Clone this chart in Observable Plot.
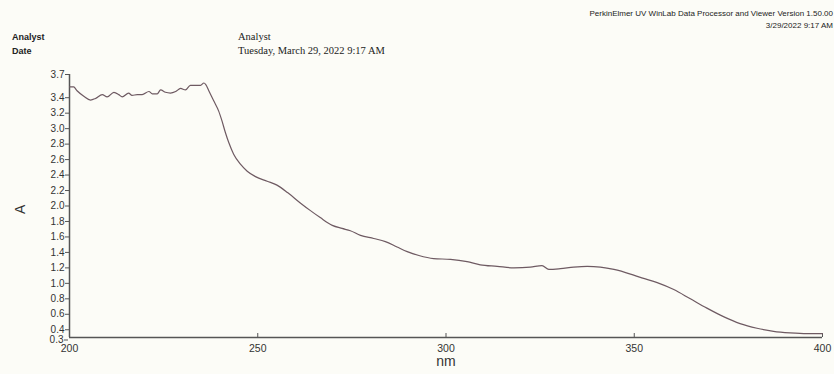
<!DOCTYPE html>
<html>
<head>
<meta charset="utf-8">
<script src="https://cdn.jsdelivr.net/npm/d3@7"></script>
<script src="https://cdn.jsdelivr.net/npm/@observablehq/plot@0.6"></script>
<style>
  html, body { margin: 0; padding: 0; background: #fcfcf7; }
  #wrap { position: relative; width: 834px; height: 374px; overflow: hidden; background: #fcfcf7; }
  .hdr { position: absolute; white-space: nowrap; color: #222; }
  .b { font-family: "Liberation Sans", Arial, sans-serif; font-weight: bold; font-size: 9px; }
  .s { font-family: "Liberation Serif", "Times New Roman", serif; font-size: 10.5px; }
  .r { font-family: "Liberation Sans", Arial, sans-serif; font-size: 8px; text-align: right; right: 1px; }
  #chart { position: absolute; left: 0; top: 0; }
</style>
</head>
<body>
<div id="wrap">
  <div class="hdr r" style="top:9px;">PerkinElmer UV WinLab Data Processor and Viewer Version 1.50.00</div>
  <div class="hdr r" style="top:21px;">3/29/2022 9:17 AM</div>
  <div class="hdr b" style="left:12px; top:32px;">Analyst</div>
  <div class="hdr b" style="left:12px; top:46px;">Date</div>
  <div class="hdr s" style="left:238px; top:31px;">Analyst</div>
  <div class="hdr s" style="left:238px; top:45px;">Tuesday, March 29, 2022 9:17 AM</div>
  <div id="chart"></div>
</div>
<script>
const wavelength = [200.0, 201.1, 202.0, 203.8, 205.6, 206.9, 208.7, 210.0, 211.8, 213.1, 214.0, 215.7, 216.6, 218.0, 219.3, 221.1, 222.0, 223.3, 224.2, 225.5, 226.8, 228.2, 229.5, 230.8, 232.1, 233.5, 234.8, 235.7, 236.2, 237.0, 238.3, 239.6, 240.5, 241.4, 242.3, 243.6, 245.4, 247.2, 249.4, 252.5, 255.1, 258.0, 261.3, 264.0, 266.6, 269.8, 272.4, 274.6, 277.3, 280.8, 283.9, 287.0, 289.7, 292.8, 296.7, 301.2, 305.6, 309.1, 313.6, 318.0, 322.4, 325.5, 327.3, 330.4, 333.9, 337.5, 341.0, 344.6, 349.0, 352.0, 356.1, 360.5, 364.9, 369.3, 373.7, 378.1, 382.6, 387.0, 391.4, 395.9, 400.0];
const absorbance = [3.54, 3.54, 3.49, 3.42, 3.37, 3.39, 3.44, 3.41, 3.47, 3.44, 3.41, 3.46, 3.43, 3.44, 3.44, 3.48, 3.45, 3.45, 3.50, 3.47, 3.46, 3.48, 3.52, 3.50, 3.56, 3.56, 3.56, 3.59, 3.57, 3.49, 3.36, 3.23, 3.10, 2.95, 2.82, 2.67, 2.54, 2.45, 2.38, 2.32, 2.27, 2.17, 2.04, 1.94, 1.85, 1.75, 1.71, 1.68, 1.62, 1.58, 1.54, 1.47, 1.41, 1.36, 1.32, 1.31, 1.28, 1.24, 1.22, 1.20, 1.21, 1.23, 1.18, 1.19, 1.21, 1.22, 1.21, 1.18, 1.12, 1.07, 1.01, 0.92, 0.80, 0.68, 0.57, 0.48, 0.42, 0.38, 0.36, 0.35, 0.35];
const xTicks = [200, 250, 300, 350, 400];
const yTicks = [0.4, 0.6, 0.8, 1.0, 1.2, 1.4, 1.6, 1.8, 2.0, 2.2, 2.4, 2.6, 2.8, 3.0, 3.2, 3.4, 3.7];
const yTickBottom = [0.3];

const data = wavelength.map((w, i) => ({nm: w, A: absorbance[i]}));
const axisColor = "#555";

const chart = Plot.plot({
  width: 834,
  height: 374,
  marginLeft: 69,
  marginRight: 12,
  marginTop: 74,
  marginBottom: 37,
  style: {background: "transparent", fontFamily: "Liberation Sans, Arial, sans-serif", fontSize: "10px", color: "#333"},
  x: {domain: [200, 400], axis: null},
  y: {domain: [0.3, 3.7], axis: null},
  marks: [
    Plot.axisY({ticks: yTicks, tickFormat: d3.format(".1f"), tickSize: 4, tickPadding: 1, stroke: axisColor, label: null, fontSize: 10}),
    Plot.axisY({ticks: yTickBottom, tickFormat: d3.format(".1f"), tickSize: 4, tickPadding: 1, stroke: axisColor, label: null, fontSize: 10, dy: 2.5, dx: -1}),
    Plot.axisX({ticks: xTicks, tickSize: 0, tickPadding: 7, label: null, fontSize: 10.5}),
    Plot.tickX(xTicks, {x: d => d, stroke: axisColor, insetTop: 259}),
    Plot.ruleX([200], {stroke: axisColor, strokeWidth: 1.5}),
    Plot.ruleY([0.3], {stroke: axisColor, strokeWidth: 1.5}),
    Plot.line(data, {x: "nm", y: "A", stroke: "#6e5a62", strokeWidth: 1.2, curve: "monotone-x"}),
    Plot.text(["nm"], {frameAnchor: "bottom", dy: 28, text: d => d, fontSize: 14, fill: "#333"}),
    Plot.text(["A"], {frameAnchor: "left", dx: -49, dy: 8, rotate: -90, text: d => d, fontSize: 14, fill: "#333"})
  ]
});
document.getElementById("chart").appendChild(chart);
</script>
</body>
</html>
